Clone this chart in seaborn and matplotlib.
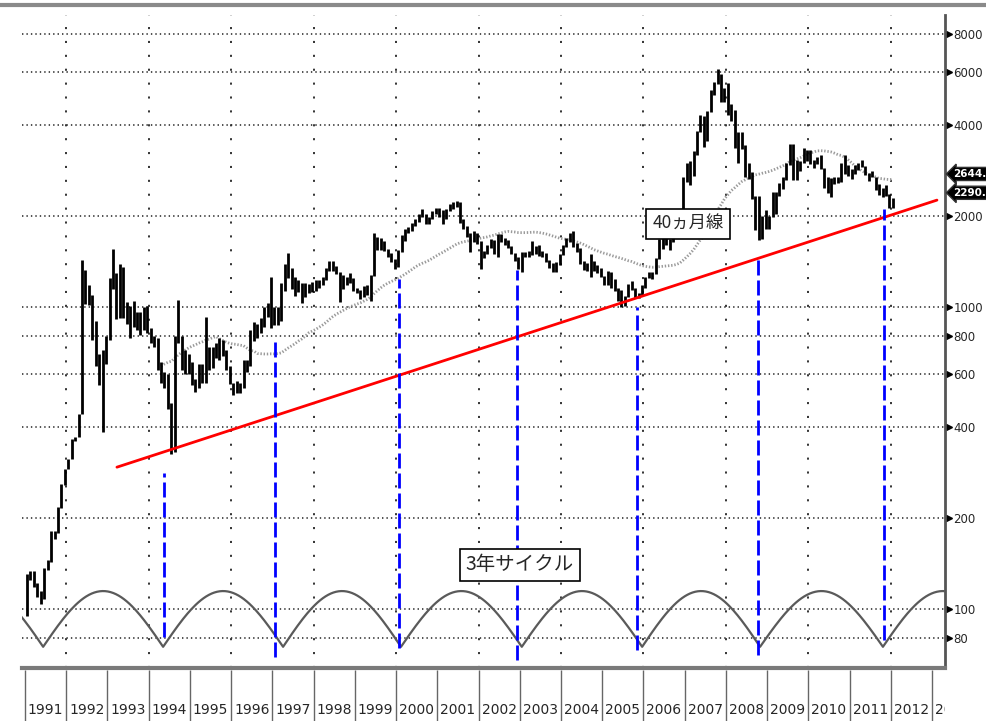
import numpy as np
import pandas as pd
import matplotlib
matplotlib.use("Agg")
import matplotlib.pyplot as plt
import matplotlib.transforms as mtransforms
from matplotlib.lines import Line2D
from matplotlib.ticker import FixedLocator, NullLocator, NullFormatter
import seaborn as sns

sns.set_style("white")
plt.rcParams["font.family"] = ["Noto Sans CJK JP", "DejaVu Sans"]
plt.rcParams["lines.scale_dashes"] = False
NARROW = ["DejaVu Sans"]

# ---------------- data (monthly, Jan 1991 .. Jan 2012) ----------------
first_year = 1991
monthly_high = [
    131, 134, 134, 122, 115, 137, 145, 181, 181, 218, 259, 292,            # 1991
    313, 365, 372, 444, 1429, 1330, 1185, 1100, 900, 700, 720, 800,        # 1992
    1250, 1558, 1300, 1390, 1360, 1040, 1010, 1050, 960, 960, 1000, 1010,  # 1993
    850, 800, 790, 660, 610, 600, 480, 800, 1052, 800, 720, 700,           # 1994
    660, 580, 650, 650, 926, 740, 740, 760, 790, 780, 720, 640,            # 1995
    560, 570, 560, 670, 670, 840, 890, 880, 920, 1000, 1030, 1258,         # 1996
    1000, 1000, 1200, 1390, 1510, 1350, 1260, 1230, 1200, 1200, 1190, 1210,  # 1997
    1230, 1230, 1260, 1350, 1420, 1420, 1370, 1310, 1280, 1260, 1300, 1250,  # 1998
    1160, 1140, 1170, 1180, 1280, 1756, 1700, 1690, 1650, 1560, 1510, 1440,  # 1999
    1540, 1730, 1820, 1840, 1900, 1950, 2030, 2115, 2030, 1980, 2080, 2125,  # 2000
    2130, 2090, 2120, 2200, 2230, 2245, 2230, 1960, 1850, 1760, 1780, 1760,  # 2001
    1650, 1530, 1610, 1680, 1670, 1750, 1750, 1690, 1670, 1590, 1510, 1460,  # 2002
    1520, 1520, 1530, 1650, 1590, 1600, 1530, 1510, 1430, 1400, 1410, 1500,  # 2003
    1600, 1690, 1760, 1783, 1630, 1570, 1420, 1400, 1500, 1420, 1380, 1350,  # 2004
    1270, 1320, 1310, 1240, 1160, 1140, 1090, 1190, 1220, 1160, 1110, 1180,  # 2005
    1260, 1310, 1310, 1450, 1680, 1760, 1760, 1680, 1760, 1840, 2100, 2700,  # 2006
    2990, 3050, 3280, 3840, 4335, 4300, 4470, 5218, 5560, 6124, 5920, 5300,  # 2007
    5522, 4700, 4480, 3790, 3786, 3440, 3000, 2800, 2340, 2330, 2000, 2100,  # 2008
    2000, 2402, 2400, 2580, 2690, 2990, 3455, 3478, 3070, 3040, 3360, 3300,  # 2009
    3300, 3080, 3140, 3180, 2880, 2690, 2680, 2700, 2700, 3000, 3186, 2950,  # 2010
    2860, 2950, 3000, 3067, 2930, 2780, 2830, 2700, 2560, 2480, 2536, 2360,  # 2011
    2300,                                                                    # 2012
]
monthly_low = [
    95, 125, 118, 110, 104, 108, 135, 143, 170, 178, 216, 258,
    292, 313, 360, 370, 442, 1020, 1015, 780, 640, 550, 386, 650,
    780, 1150, 910, 920, 920, 880, 790, 860, 840, 810, 840, 820,
    760, 740, 620, 560, 540, 460, 325, 330, 760, 620, 600, 600,
    550, 524, 540, 560, 560, 620, 630, 680, 670, 690, 620, 555,
    512, 520, 520, 540, 610, 640, 770, 790, 820, 860, 930, 855,
    870, 870, 900, 1130, 1250, 1150, 1090, 1120, 1030, 1080, 1110, 1120,
    1130, 1160, 1180, 1230, 1320, 1320, 1290, 1043, 1150, 1180, 1200, 1130,
    1110, 1064, 1080, 1100, 1050, 1270, 1550, 1550, 1530, 1470, 1410, 1341,
    1360, 1520, 1650, 1760, 1780, 1850, 1920, 1990, 1880, 1880, 1950, 2040,
    1990, 1890, 1960, 2080, 2110, 2150, 1900, 1810, 1700, 1520, 1640, 1620,
    1340, 1450, 1500, 1570, 1500, 1460, 1640, 1610, 1570, 1500, 1420, 1340,
    1311, 1470, 1470, 1490, 1500, 1480, 1470, 1410, 1350, 1310, 1307, 1380,
    1490, 1580, 1640, 1580, 1520, 1390, 1330, 1320, 1260, 1320, 1300, 1260,
    1180, 1180, 1160, 1130, 1050, 998, 1005, 1080, 1140, 1070, 1070, 1090,
    1160, 1250, 1240, 1290, 1440, 1560, 1600, 1540, 1640, 1740, 1830, 2090,
    2600, 2540, 2720, 3180, 3790, 3400, 3560, 4420, 5030, 5460, 4770, 4780,
    4330, 4120, 3357, 2990, 3330, 2690, 2660, 2280, 1802, 1664, 1680, 1810,
    1814, 1990, 2037, 2330, 2460, 2630, 2960, 2640, 2640, 2830, 3000, 3040,
    2970, 2890, 2980, 2860, 2480, 2380, 2320, 2560, 2570, 2600, 2750, 2720,
    2660, 2750, 2840, 2900, 2740, 2610, 2700, 2440, 2350, 2307, 2330, 2134,
    2132,
]
monthly_close = [
    129, 133, 120, 113, 114, 137, 143, 180, 180, 218, 259, 292,
    313, 365, 371, 443, 1266, 1100, 1040, 823, 690, 627, 690, 780,
    1180, 1300, 925, 1358, 935, 1000, 1007, 880, 930, 850, 967, 833,
    770, 780, 640, 574, 593, 467, 333, 750, 800, 660, 650, 647,
    563, 549, 640, 587, 700, 630, 712, 720, 720, 700, 630, 555,
    537, 537, 530, 650, 640, 780, 810, 820, 880, 950, 1000, 917,
    914, 900, 1150, 1350, 1320, 1250, 1150, 1180, 1100, 1150, 1150, 1194,
    1220, 1200, 1240, 1340, 1410, 1340, 1300, 1150, 1240, 1210, 1240, 1147,
    1130, 1090, 1160, 1120, 1280, 1690, 1600, 1640, 1550, 1500, 1440, 1367,
    1530, 1710, 1800, 1830, 1890, 1930, 2020, 2020, 1910, 1960, 2070, 2073,
    2060, 1960, 2110, 2120, 2210, 2218, 1920, 1830, 1730, 1690, 1750, 1646,
    1490, 1520, 1600, 1670, 1520, 1730, 1660, 1670, 1580, 1510, 1440, 1357,
    1500, 1510, 1510, 1520, 1580, 1490, 1480, 1420, 1370, 1350, 1400, 1497,
    1590, 1680, 1740, 1600, 1560, 1400, 1390, 1340, 1400, 1320, 1340, 1267,
    1190, 1306, 1180, 1160, 1060, 1080, 1083, 1162, 1155, 1092, 1100, 1161,
    1258, 1300, 1298, 1440, 1641, 1672, 1612, 1658, 1753, 1838, 2099, 2675,
    2786, 2881, 3183, 3841, 4109, 3820, 4471, 5218, 5552, 5954, 4871, 5262,
    4383, 4348, 3472, 3693, 3433, 2736, 2776, 2397, 2293, 1729, 1871, 1821,
    1991, 2082, 2373, 2477, 2633, 2959, 3412, 2667, 2779, 2996, 3195, 3277,
    2989, 3051, 3110, 2870, 2592, 2398, 2638, 2639, 2656, 2979, 2820, 2808,
    2791, 2905, 2928, 2911, 2743, 2762, 2701, 2568, 2359, 2468, 2333, 2199,
    2292,
]
ma_window = 40

ytick_values = [80, 100, 200, 400, 600, 800, 1000, 2000, 4000, 6000, 8000]
ytick_labels = ["80", "100", "200", "400", "600", "800", "1000", "2000", "4000", "6000", "8000"]
year_labels = [str(y) for y in range(1991, 2014)]
grid_years = [1992, 1994, 1996, 1998, 2000, 2002, 2004, 2006, 2008, 2010, 2012]

trend_x = [1993.23, 2013.12]
trend_y = [295, 2260]

cycle_low_x = [1994.37, 1997.06, 2000.07, 2002.93, 2005.84, 2008.78, 2011.83]
cycle_low_top = [282, 790, 1238, 1326, 1000, 1490, 2115]
cycle_low_bottom = [80.8, 69.3, 74.3, 67.8, 73.2, 70.5, 79.0]

cycle_troughs = [1988.53, 1991.44, 1994.35, 1997.26, 2000.12, 2003.05,
                 2005.97, 2008.83, 2011.81, 2014.72]
cycle_trough_value = 75.0
cycle_peak_value = 114.7

tag_values = [2644.42, 2290.85]
tag_labels = ["2644.42", "2290.85"]

label_ma = "40ヵ月線"
label_ma_pos = (2007.08, 1883)
label_cycle = "3年サイクル"
label_cycle_pos = (2003.0, 140)

# ---------------- figure ----------------
W, H = 987, 721
fig = plt.figure(figsize=(W / 100, H / 100), dpi=100)
x0_px, x1_px, top_px, bot_px = 22, 945, 15, 668
ax = fig.add_axes([x0_px / W, 1 - bot_px / H, (x1_px - x0_px) / W, (bot_px - top_px) / H])
px_per_year = 907 / 22
xmin = 1991 - (25 - x0_px) / px_per_year
xmax = 1991 + (x1_px - 25) / px_per_year
ax.set_xlim(xmin, xmax)
ax.set_yscale("log")
ax.set_ylim(63.8, 9270)

n = len(monthly_close)
df = pd.DataFrame({
    "t": first_year + (np.arange(n) + 0.6) / 12,
    "high": monthly_high,
    "low": monthly_low,
    "close": monthly_close,
})
df["ma"] = df["close"].rolling(ma_window).mean()

# grid
for v in ytick_values:
    ax.axhline(v, color="#333333", lw=1.2, ls=(0, (1, 2.2)), zorder=1)
for yv in grid_years:
    ax.axvline(yv, color="#333333", lw=1.4, ls=(0, (1.5, 8.5)), zorder=1)

# cycle arcs
arc_t, arc_v = [], []
for a, b in zip(cycle_troughs[:-1], cycle_troughs[1:]):
    s = np.linspace(a, b, 90)
    frac = np.sin(np.pi * (s - a) / (b - a))
    arc_t.extend(s)
    arc_v.extend(np.exp(np.log(cycle_trough_value) +
                        (np.log(cycle_peak_value) - np.log(cycle_trough_value)) * frac))
cyc = pd.DataFrame({"t": arc_t, "v": arc_v})
sns.lineplot(data=cyc, x="t", y="v", ax=ax, color="#5a5a5a", lw=1.6,
             sort=False, estimator=None, zorder=3)

# price bars
ax.vlines(df["t"], df["low"], df["high"], color="black", lw=2.0, zorder=4)

# 40-month moving average
sns.lineplot(data=df.dropna(subset=["ma"]), x="t", y="ma", ax=ax, color="#9a9a9a",
             lw=2.0, ls=(0, (1, 1.3)), zorder=3)

# trend line
ax.plot(trend_x, trend_y, color="#ff0000", lw=2.0, zorder=5)

# cycle low markers
ax.vlines(cycle_low_x, cycle_low_bottom, cycle_low_top, colors="#0000ff", lw=2.0,
          linestyles=[(0, (10.8, 3.6))], zorder=5)

# labels
ax.text(*label_ma_pos, label_ma, ha="center", va="center", fontsize=12.5, zorder=7,
        bbox=dict(boxstyle="square,pad=0.35", fc="white", ec="black", lw=1.2))
ax.text(*label_cycle_pos, label_cycle, ha="center", va="center", fontsize=14, zorder=7,
        bbox=dict(boxstyle="square,pad=0.3", fc="white", ec="black", lw=1.2))

# axes styling
for sp in ["top", "left"]:
    ax.spines[sp].set_visible(False)
ax.spines["right"].set_color("#555555")
ax.spines["right"].set_linewidth(2)
ax.spines["bottom"].set_color("#7a7a7a")
ax.spines["bottom"].set_linewidth(3)
ax.set_xticks([])
ax.yaxis.tick_right()
ax.yaxis.set_major_locator(FixedLocator(ytick_values))
ax.yaxis.set_minor_locator(NullLocator())
ax.yaxis.set_minor_formatter(NullFormatter())
ax.set_yticklabels(ytick_labels, fontsize=8.5, family=NARROW)
ax.tick_params(axis="y", length=0, pad=6)
ax.set_xlabel("")
ax.set_ylabel("")

trans = mtransforms.blended_transform_factory(ax.transAxes, ax.transData)
ax.plot([1.004] * len(ytick_values), ytick_values, transform=trans, ls="none",
        marker=">", ms=4.5, color="black", clip_on=False)

for val, lab in zip(tag_values, tag_labels):
    ax.annotate(lab, xy=(1.0, val), xycoords=trans, xytext=(6, 4),
                textcoords="offset points", color="white", fontsize=7.5,
                fontweight="bold", va="center", ha="left", family="DejaVu Sans",
                bbox=dict(boxstyle="larrow,pad=0.15", fc="black", ec="#333333"),
                annotation_clip=False, zorder=8)

# year band
band = fig.add_axes([x0_px / W, 0, (x1_px - x0_px) / W, (H - 670) / H])
band.set_xlim(xmin, xmax)
band.set_ylim(0, 1)
band.axis("off")
band.vlines(range(1991, 2014), 0, 1, color="#666666", lw=1)
for yr, lab in zip(range(1991, 2014), year_labels):
    band.text(yr + 0.5, 0.22, lab, ha="center", va="center", fontsize=10,
              family=NARROW, clip_on=True)

fig.add_artist(Line2D([0, 1], [1 - 5 / H] * 2, transform=fig.transFigure,
                      color="#8a8a8a", lw=3))

fig.savefig("out.png", dpi=100)
